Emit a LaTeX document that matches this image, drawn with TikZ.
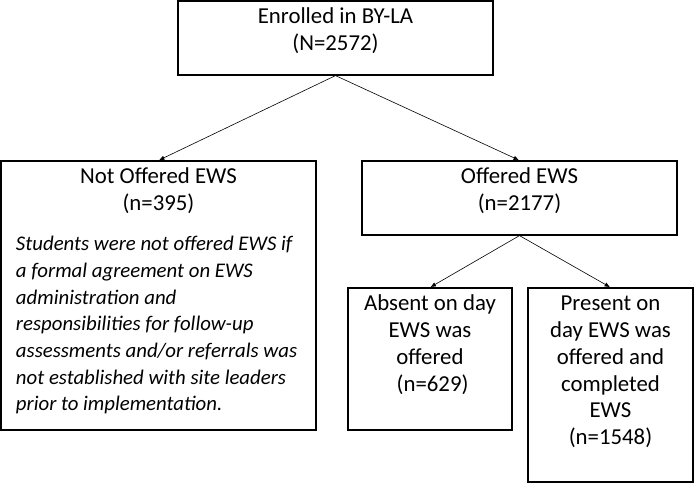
\documentclass[tikz,border=0pt]{standalone}
\usepackage{fontspec}
\setmainfont{Carlito}
\usetikzlibrary{arrows.meta}
\begin{document}
\begin{tikzpicture}[x=1pt,y=-1pt,
    box/.style={draw, line width=1.2pt, inner xsep=5pt, inner ysep=4.3pt,
        font=\fontsize{22.8}{26.7}\selectfont},
    link/.style={line width=0.6pt, shorten >=1pt, -{Triangle[length=5pt,width=4pt]}}]
\useasboundingbox (0,0) rectangle (694,484);

\node[box] (enrolled) at (335.5,38)
    {\parbox[c][65.4pt][t]{305pt}{\centering\strut Enrolled in BY-LA\\(N=2572)}};
\node[box, inner xsep=15pt] (notoffered) at (158.5,295.5)
    {\parbox[c][260.4pt][t]{285pt}{\centering\strut Not Offered EWS\\(n=395)\par
     \vspace{13.3pt}\raggedright\fontsize{20.8}{26.7}\selectfont\itshape
     Students were not offered EWS if\\
     a formal agreement on EWS\\administration and\\responsibilities for follow-up\\
     assessments and/or referrals was\\not established with site leaders\\
     prior to implementation.}};
\node[box] (offered) at (519.5,198)
    {\parbox[c][65.4pt][t]{305pt}{\centering\strut Offered EWS\\(n=2177)}};
\node[box] (absent) at (430,359)
    {\parbox[c][133.4pt][t]{154pt}{\centering\strut Absent on day\\EWS was\\offered\\\ (n=629)}};
\node[box] (present) at (610.5,385)
    {\parbox[c][185.4pt][t]{155pt}{\centering\strut Present on\\day EWS was\\offered and\\completed\\EWS\\(n=1548)}};

\foreach \from/\to in {enrolled/notoffered, enrolled/offered, offered/absent, offered/present}
{
    \draw[link] (\from.south) -- (\to.north);
}

\end{tikzpicture}
\end{document}
